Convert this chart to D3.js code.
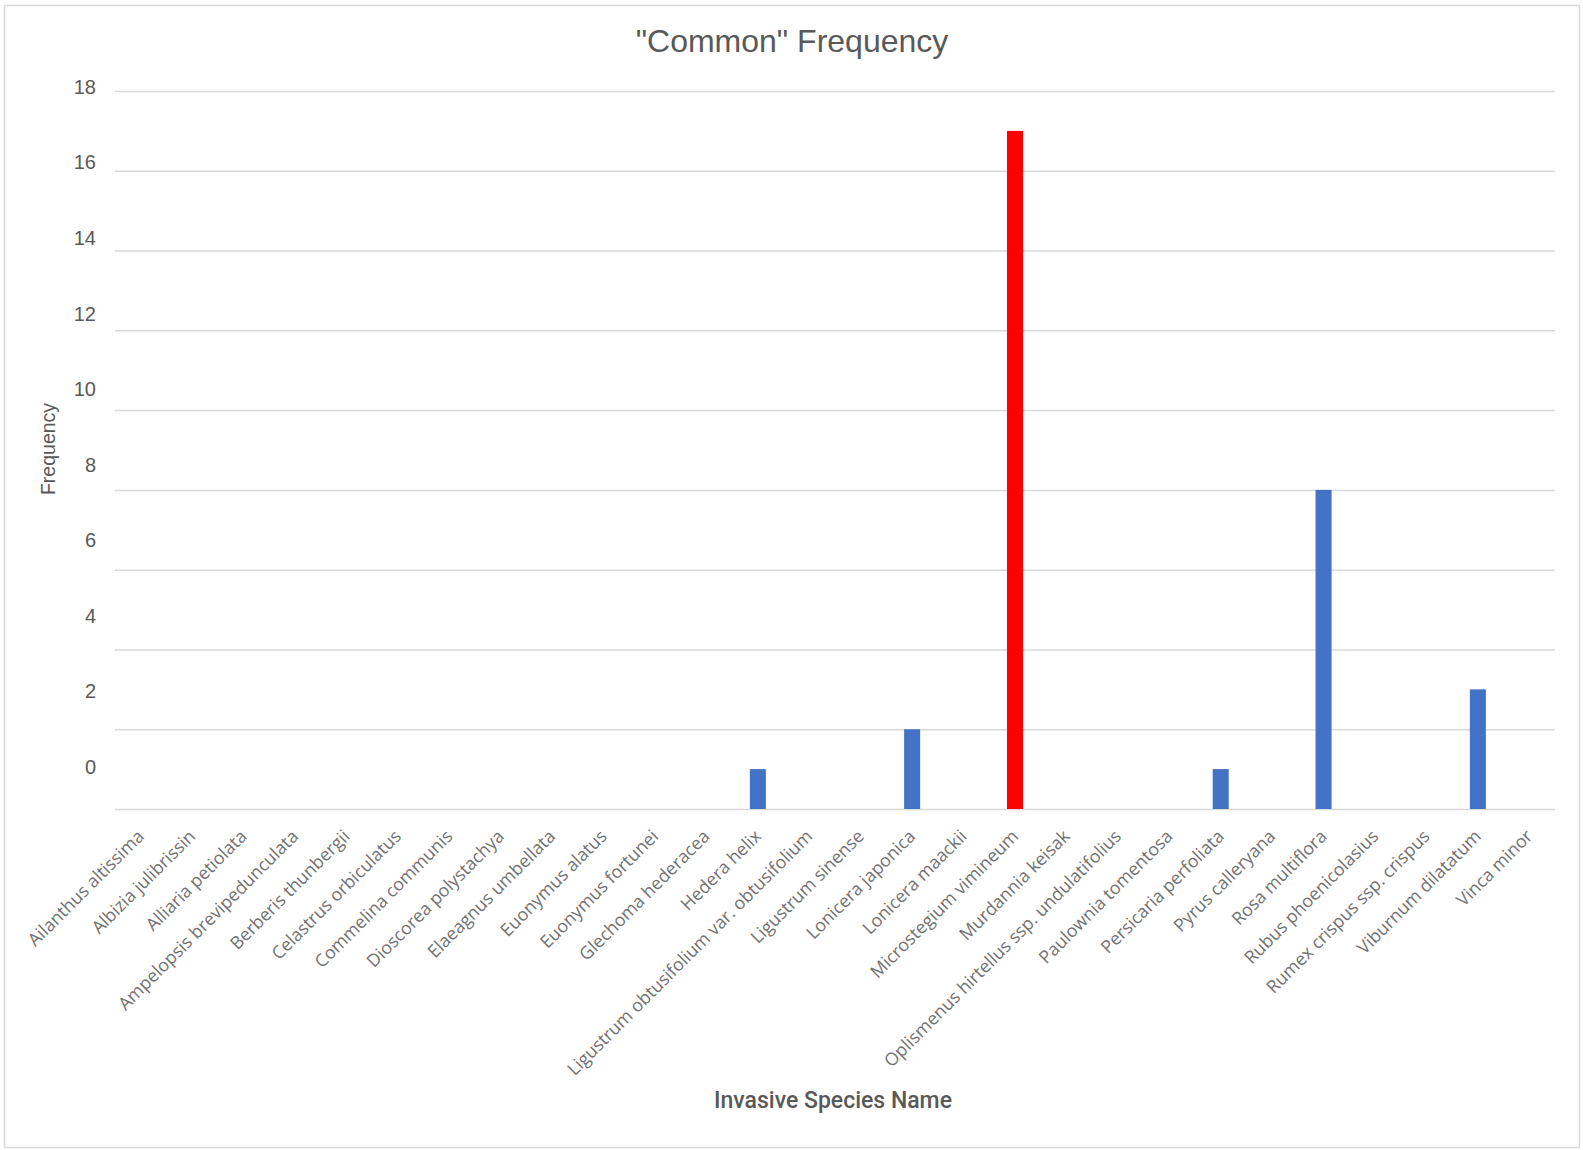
<!DOCTYPE html>
<html>
<head>
<meta charset="utf-8">
<script src="https://cdn.jsdelivr.net/npm/d3@7"></script>
<style>
  html, body { margin: 0; padding: 0; background: #fff; }
  svg { display: block; }
</style>
</head>
<body>
<svg id="chart" width="1583" height="1150"></svg>
<script>
// Invasive species and how often each was recorded as "Common"
const categories = [
  "Ailanthus altissima", "Albizia julibrissin", "Alliaria petiolata",
  "Ampelopsis brevipedunculata", "Berberis thunbergii", "Celastrus orbiculatus",
  "Commelina communis", "Dioscorea polystachya", "Elaeagnus umbellata",
  "Euonymus alatus", "Euonymus fortunei", "Glechoma hederacea", "Hedera helix",
  "Ligustrum obtusifolium var. obtusifolium", "Ligustrum sinense",
  "Lonicera japonica", "Lonicera maackii", "Microstegium vimineum",
  "Murdannia keisak", "Oplismenus hirtellus ssp. undulatifolius",
  "Paulownia tomentosa", "Persicaria perfoliata", "Pyrus calleryana",
  "Rosa multiflora", "Rubus phoenicolasius", "Rumex crispus ssp. crispus",
  "Viburnum dilatatum", "Vinca minor"
];
const frequency = [
  0, 0, 0,
  0, 0, 0,
  0, 0, 0,
  0, 0, 0, 1,
  0, 0,
  2, 0, 17,
  0, 0,
  0, 1, 0,
  8, 0, 0,
  3, 0
];
const highlighted = "Microstegium vimineum";
const yTicks = [0, 2, 4, 6, 8, 10, 12, 14, 16, 18];

const chartTitle = "\"Common\" Frequency";
const xTitle = "Invasive Species Name";
const yTitle = "Frequency";

const svg = d3.select("#chart");
const TEXT = "#595959";
const GRID = "#d9d9d9";

const plot = { left: 115, right: 1555, top: 91, bottom: 809 };

// outer frame
svg.append("rect")
  .attr("x", 4.5).attr("y", 5.5)
  .attr("width", 1575).attr("height", 1142)
  .attr("fill", "#fff").attr("stroke", GRID).attr("stroke-width", 1.5);

const x = d3.scaleBand()
  .domain(categories)
  .range([plot.left, plot.right])
  .paddingInner(0.688)
  .paddingOuter(0.344);

const y = d3.scaleLinear().domain([0, 18]).range([plot.bottom, plot.top]);
// value labels sit on their own, slightly tighter scale
const yLabel = d3.scaleLinear().domain([0, 18]).range([767, 87]);

// horizontal gridlines
const grid = svg.append("g")
  .attr("transform", `translate(${plot.left},0)`)
  .call(d3.axisLeft(y).tickValues(yTicks).tickSize(-(plot.right - plot.left)).tickFormat(""));
grid.select(".domain").remove();
grid.selectAll(".tick line").attr("stroke", GRID).attr("stroke-width", 1.5);

// value labels
const yAxis = svg.append("g")
  .attr("transform", `translate(${plot.left},0)`)
  .call(d3.axisLeft(yLabel).tickValues(yTicks).tickSize(0).tickPadding(19));
yAxis.select(".domain").remove();
yAxis.selectAll("text")
  .attr("fill", TEXT)
  .style("font-family", "'Liberation Sans', Arial, sans-serif")
  .style("font-size", "20px");

// bars
svg.append("g").selectAll("rect")
  .data(categories.map((c, i) => ({ name: c, value: frequency[i] })))
  .join("rect")
  .attr("x", d => x(d.name))
  .attr("y", d => y(d.value))
  .attr("width", x.bandwidth())
  .attr("height", d => y(0) - y(d.value))
  .attr("fill", d => d.name === highlighted ? "#ff0000" : "#4472c4");

// category axis with slanted labels
const xAxis = svg.append("g")
  .attr("transform", `translate(0,${plot.bottom})`)
  .call(d3.axisBottom(x).tickSize(0).tickPadding(0));
xAxis.select(".domain").remove();
xAxis.selectAll(".tick text")
  .attr("fill", "#727272")
  .style("font-family", "'Open Sans', sans-serif")
  .style("font-size", "17.8px")
  .attr("text-anchor", "end")
  .attr("dy", "0.35em")
  .attr("y", 0)
  .attr("transform", "translate(0,24) rotate(-45)");

// titles
svg.append("text")
  .attr("x", 792).attr("y", 52)
  .attr("text-anchor", "middle")
  .attr("fill", TEXT)
  .style("font-family", "'Liberation Sans', Arial, sans-serif")
  .style("font-size", "32px")
  .text(chartTitle);

svg.append("text")
  .attr("x", 833).attr("y", 1108)
  .attr("text-anchor", "middle")
  .attr("fill", TEXT)
  .style("font-family", "Roboto, sans-serif")
  .style("font-weight", 500)
  .style("font-size", "23px")
  .text(xTitle);

svg.append("text")
  .attr("transform", "translate(55,449) rotate(-90)")
  .attr("text-anchor", "middle")
  .attr("fill", TEXT)
  .style("font-family", "'Liberation Sans', Arial, sans-serif")
  .style("font-size", "19.5px")
  .text(yTitle);
</script>
</body>
</html>
